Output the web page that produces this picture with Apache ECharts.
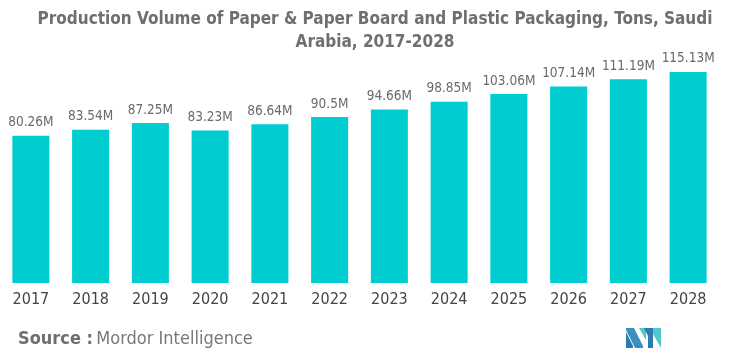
<!DOCTYPE html>
<html><head><meta charset="utf-8">
<script src="https://cdn.jsdelivr.net/npm/echarts@6/dist/echarts.min.js"></script>
<style>html,body{margin:0;padding:0;background:#fff}#c{width:750px;height:359px}</style>
</head><body><div id="c"></div>
<script>
const categories = ['2017','2018','2019','2020','2021','2022','2023','2024','2025','2026','2027','2028'];
const values = [80.26, 83.54, 87.25, 83.23, 86.64, 90.5, 94.66, 98.85, 103.06, 107.14, 111.19, 115.13];
const titleText = 'Production Volume of Paper & Paper Board and Plastic Packaging, Tons, Saudi\nArabia, 2017-2028';
const condensed = '"Liberation Sans Narrow","DejaVu Sans Condensed","Roboto Condensed",Roboto,sans-serif';
const chart = echarts.init(document.getElementById('c'));
chart.setOption({
  animation: false,
  title: {
    text: titleText, left: 'center', top: 3,
    textStyle: {fontFamily: condensed, fontWeight: 'bold', fontSize: 17, color: '#6f6f6f', lineHeight: 23}
  },
  grid: {left: 1, right: 32, top: 63, bottom: 76},
  xAxis: {
    type: 'category', data: categories,
    axisLine: {show: false}, axisTick: {show: false},
    axisLabel: {fontFamily: condensed, fontSize: 16, color: '#444444', margin: 9}
  },
  yAxis: {type: 'value', min: 0, max: 120, show: false, splitLine: {show: false}},
  series: [{
    type: 'bar', data: values, barWidth: '62%',
    itemStyle: {color: '#00CDD0'},
    label: {show: true, position: 'top', distance: 6, formatter: p => p.value + 'M',
      fontFamily: condensed, fontSize: 13.5, color: '#6a6a6a'}
  }],
  graphic: [
    {type: 'text', left: 18, top: 330, style: {
      text: '{b|Source :} {n|Mordor Intelligence}',
      rich: {
        b: {fontFamily: condensed, fontWeight: 'bold', fontSize: 18, fill: '#6f6f6f'},
        n: {fontFamily: condensed, fontSize: 18, fill: '#777777'}
      }}},
    {type: 'group', left: 626, top: 328, children: [
      {type: 'polygon', shape: {points: [[0,0],[8,0],[17,18],[17,20],[9,20],[0,2]]}, style: {fill: '#3c8fbf'}},
      {type: 'polygon', shape: {points: [[0,4],[7,18],[7,20],[0,20]]}, style: {fill: '#2b7bb0'}},
      {type: 'polygon', shape: {points: [[13,0],[20,0],[20,12],[13,0]]}, style: {fill: '#4fc9c9'}},
      {type: 'polygon', shape: {points: [[18,0],[27,0],[27,20],[22,20],[22,8]]}, style: {fill: '#2b7bb0'}},
      {type: 'polygon', shape: {points: [[27,0],[35,0],[35,20],[27,6]]}, style: {fill: '#4fc9c9'}}
    ]}
  ]
});
</script></body></html>
